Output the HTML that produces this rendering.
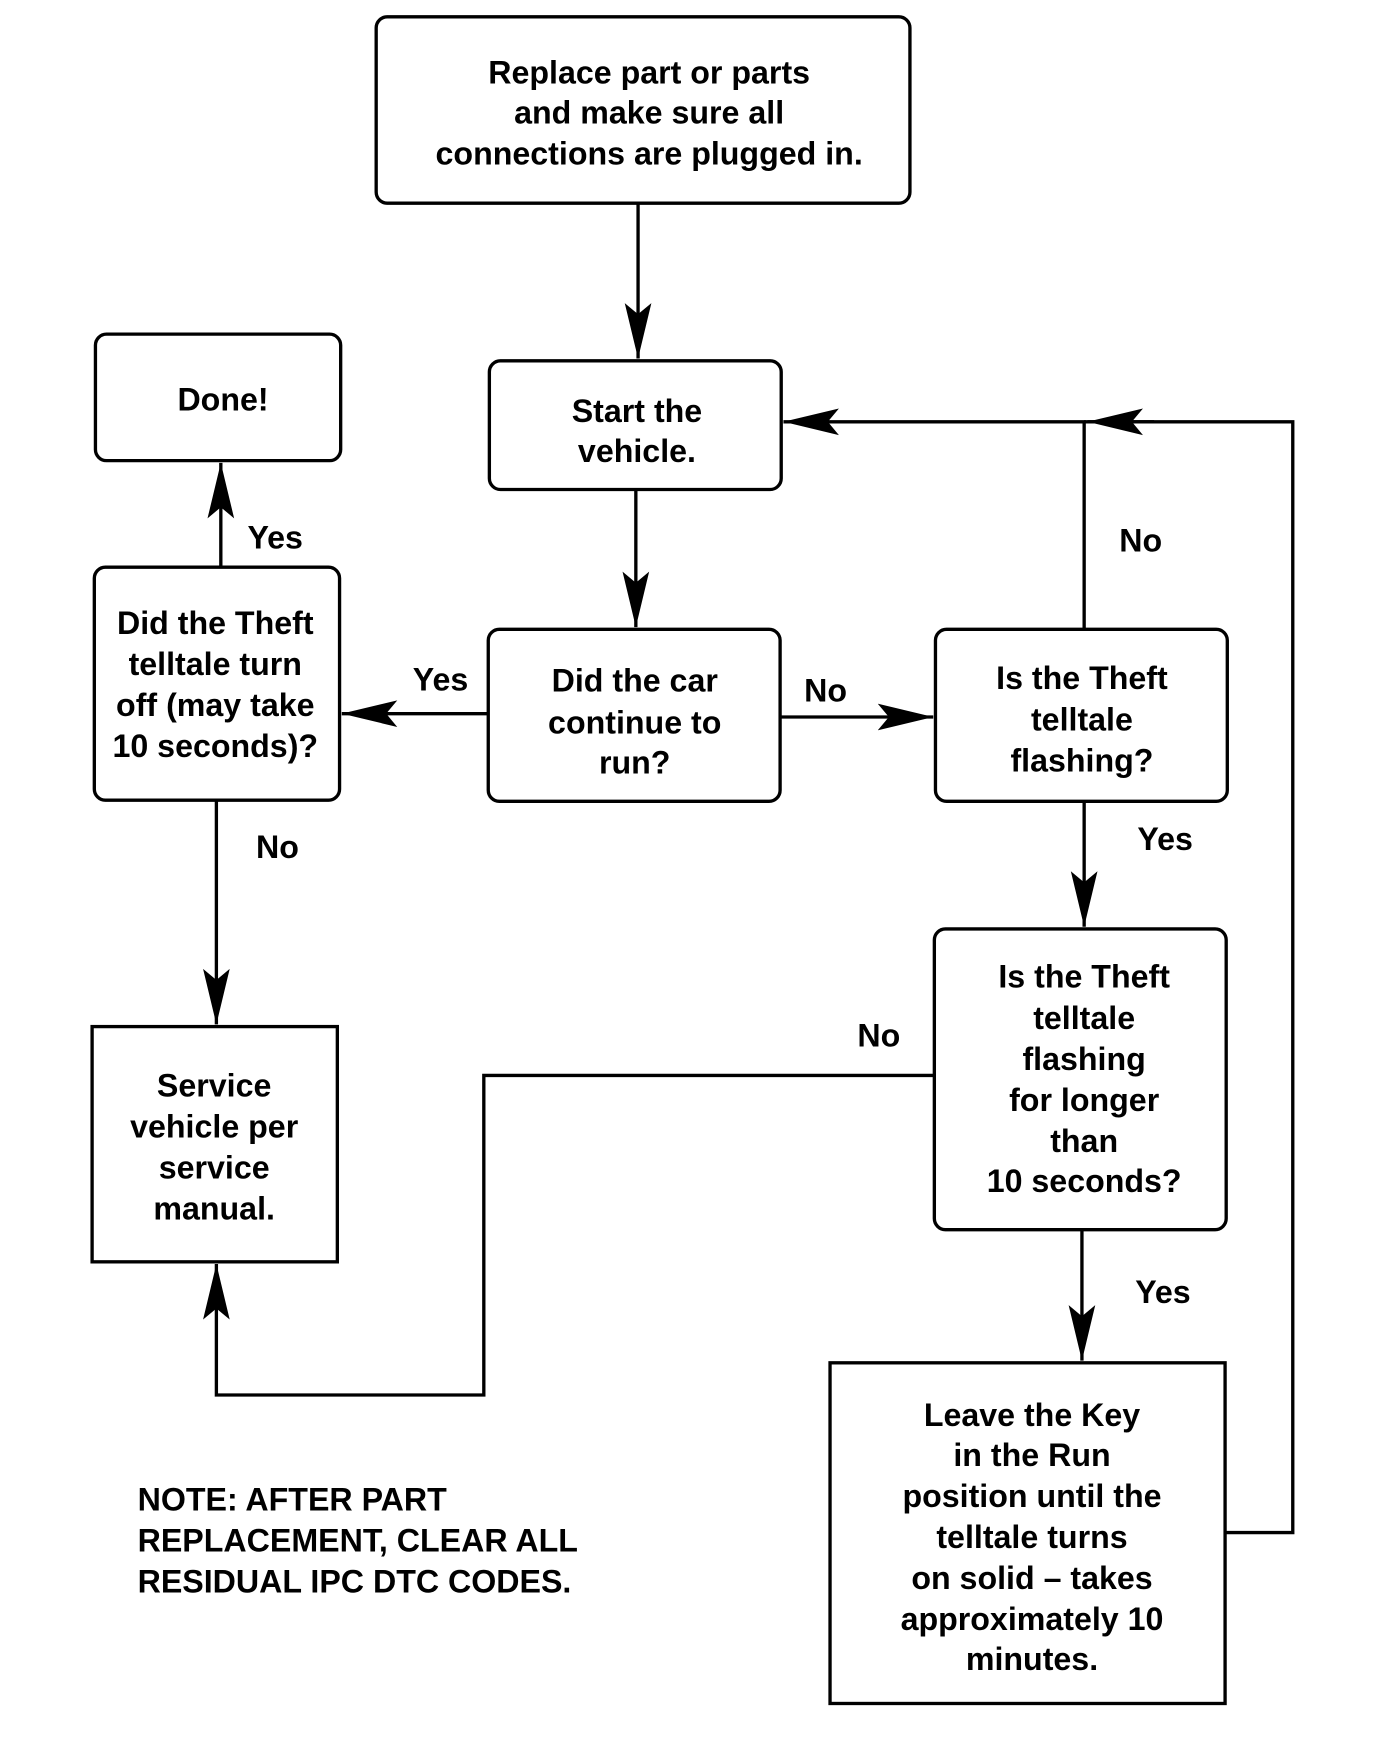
<!DOCTYPE html>
<html><head><meta charset="utf-8"><style>
html,body{margin:0;padding:0;background:#fff;}
svg{display:block;}
text{font-family:"Liberation Sans",Arial,sans-serif;font-weight:bold;font-size:29px;fill:#000;}
</style></head><body>
<svg width="1376" height="1748" viewBox="0 0 1240 1575" xmlns="http://www.w3.org/2000/svg">
<defs>
<marker id="a" markerUnits="userSpaceOnUse" markerWidth="52" markerHeight="30" refX="50" refY="14" orient="auto">
<polygon points="0,2 50,14 0,26 10,14" fill="#000"/>
</marker>
</defs>
<g fill="none" stroke="#000" stroke-width="3">
<rect x="339" y="15" width="481" height="168" rx="10"/>
<rect x="441" y="325" width="263" height="116" rx="10"/>
<rect x="86" y="301" width="221" height="114" rx="10"/>
<rect x="85" y="511" width="221" height="210" rx="10"/>
<rect x="440" y="567" width="263" height="155" rx="10"/>
<rect x="843" y="567" width="263" height="155" rx="10"/>
<rect x="842" y="837" width="263" height="271" rx="10"/>
<rect x="83" y="925" width="221" height="212"/>
<rect x="748" y="1228" width="356" height="307"/>
<line x1="575" y1="183" x2="575" y2="323" marker-end="url(#a)"/>
<line x1="573" y1="441" x2="573" y2="565" marker-end="url(#a)"/>
<line x1="440" y1="643" x2="308" y2="643" marker-end="url(#a)"/>
<line x1="703" y1="646" x2="841" y2="646" marker-end="url(#a)"/>
<line x1="199" y1="511" x2="199" y2="417" marker-end="url(#a)"/>
<line x1="195" y1="721" x2="195" y2="923" marker-end="url(#a)"/>
<line x1="977" y1="722" x2="977" y2="835" marker-end="url(#a)"/>
<line x1="975" y1="1108" x2="975" y2="1226" marker-end="url(#a)"/>
<polyline points="977,567 977,380 706,380" marker-end="url(#a)"/>
<polyline points="1104,1381 1165,1381 1165,380 977,380"/>
<line x1="1040" y1="380" x2="980" y2="380" marker-end="url(#a)"/>
<polyline points="842,969 436,969 436,1257 195,1257 195,1139" marker-end="url(#a)"/>
</g>
<g text-anchor="middle">
<text x="585" y="75">Replace part or parts</text>
<text x="585" y="111">and make sure all</text>
<text x="585" y="148">connections are plugged in.</text>
<text x="574" y="380">Start the</text>
<text x="574" y="416">vehicle.</text>
<text x="201" y="370">Done!</text>
<text x="194" y="571">Did the Theft</text>
<text x="194" y="608">telltale turn</text>
<text x="194" y="645">off (may take</text>
<text x="194" y="682">10 seconds)?</text>
<text x="572" y="623">Did the car</text>
<text x="572" y="661">continue to</text>
<text x="572" y="697">run?</text>
<text x="975" y="621">Is the Theft</text>
<text x="975" y="658">telltale</text>
<text x="975" y="695">flashing?</text>
<text x="977" y="890">Is the Theft</text>
<text x="977" y="927">telltale</text>
<text x="977" y="964">flashing</text>
<text x="977" y="1001">for longer</text>
<text x="977" y="1038">than</text>
<text x="977" y="1074">10 seconds?</text>
<text x="193" y="988">Service</text>
<text x="193" y="1025">vehicle per</text>
<text x="193" y="1062">service</text>
<text x="193" y="1099">manual.</text>
<text x="930" y="1285">Leave the Key</text>
<text x="930" y="1321">in the Run</text>
<text x="930" y="1358">position until the</text>
<text x="930" y="1395">telltale turns</text>
<text x="930" y="1432">on solid –  takes</text>
<text x="930" y="1469">approximately 10</text>
<text x="930" y="1505">minutes.</text>
<text x="248" y="494">Yes</text>
<text x="1028" y="497">No</text>
<text x="397" y="622">Yes</text>
<text x="744" y="632">No</text>
<text x="250" y="773">No</text>
<text x="1050" y="766">Yes</text>
<text x="792" y="943">No</text>
<text x="1048" y="1174">Yes</text>
</g>
<text x="124" y="1361">NOTE: AFTER PART</text>
<text x="124" y="1398">REPLACEMENT, CLEAR ALL</text>
<text x="124" y="1435">RESIDUAL IPC DTC CODES.</text>
</svg>
</body></html>
